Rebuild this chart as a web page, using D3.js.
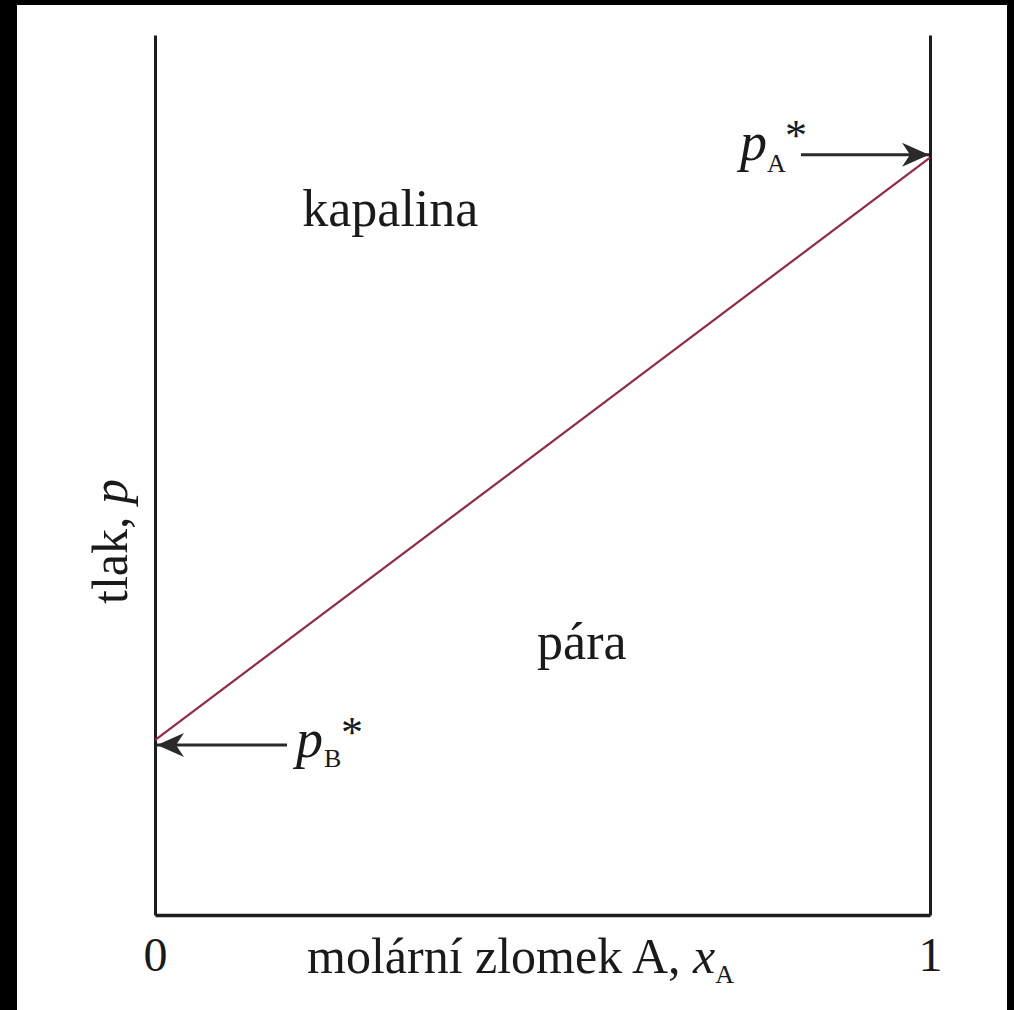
<!DOCTYPE html>
<html>
<head>
<meta charset="utf-8">
<script src="https://cdn.jsdelivr.net/npm/d3@7"></script>
<style>
  html, body { margin: 0; padding: 0; background: #000; }
  svg { display: block; }
  text { font-family: "Liberation Serif", "DejaVu Serif", serif; fill: #1a1a1a; }
</style>
</head>
<body>
<svg id="chart" width="1014" height="1010"></svg>
<script>
// Ideal binary mixture: total vapour pressure vs. mole fraction of A (Raoult's law)
const moleFractionA = [0, 1];
const xTickLabels = ["0", "1"];
const pressureB = 0.231;   // p*_B, relative to p*_A
const pressureA = 1.0;     // p*_A
const pressureLine = [pressureB, pressureA];
const pMax = 1.162;

const regionLabels = [
  { text: "kapalina", x: 0.19, p: 0.91 },
  { text: "pára",     x: 0.493, p: 0.338 }
];

const svg = d3.select("#chart");
const W = 1014, H = 1010;

// page: black surround with white paper
svg.append("rect").attr("width", W).attr("height", H).attr("fill", "#000");
svg.append("rect").attr("x", 17).attr("y", 5).attr("width", 990).attr("height", H - 5).attr("fill", "#fefefe");

const x = d3.scaleLinear().domain([0, 1]).range([155, 930]);
const y = d3.scaleLinear().domain([0, pMax]).range([915, 35]);

const ink = "#1c1c1c";
const lineColor = "#8e2c45";

// bottom axis with 0 / 1 labels
const xAxis = d3.axisBottom(x)
  .tickValues(moleFractionA)
  .tickFormat((d, i) => xTickLabels[i])
  .tickSize(0)
  .tickPadding(22);
const gx = svg.append("g").attr("transform", `translate(0,${y(0)})`).call(xAxis);
gx.select(".domain").attr("stroke", ink).attr("stroke-width", 3.5);
gx.selectAll(".tick text")
  .style("font-family", "'Liberation Serif', serif")
  .attr("font-size", 48).attr("fill", ink)
  .attr("dy", "0.71em");

// left (x_A = 0) and right (x_A = 1) pressure axes, no ticks
const yAxisL = d3.axisLeft(y).tickValues([]).tickSizeOuter(0);
const gyl = svg.append("g").attr("transform", `translate(${x(0)},0)`).call(yAxisL);
gyl.select(".domain").attr("stroke", ink).attr("stroke-width", 3);
const yAxisR = d3.axisRight(y).tickValues([]).tickSizeOuter(0);
const gyr = svg.append("g").attr("transform", `translate(${x(1)},0)`).call(yAxisR);
gyr.select(".domain").attr("stroke", ink).attr("stroke-width", 3);

// Raoult's law line
const line = d3.line().x((d, i) => x(moleFractionA[i])).y(d => y(d));
svg.append("path").datum(pressureLine)
  .attr("d", line)
  .attr("fill", "none")
  .attr("stroke", lineColor)
  .attr("stroke-width", 2.2);

// arrow head marker (swept back)
const defs = svg.append("defs");
defs.append("marker")
  .attr("id", "head")
  .attr("viewBox", "-28 -14 30 28")
  .attr("refX", 0).attr("refY", 0)
  .attr("markerWidth", 30).attr("markerHeight", 28)
  .attr("markerUnits", "userSpaceOnUse")
  .attr("orient", "auto")
  .append("path")
  .attr("d", "M0,0 L-27,-12 L-19,0 L-27,12 Z")
  .attr("fill", "#2a2a2a");

// p*_A arrow pointing at the right axis
svg.append("line")
  .attr("x1", 801).attr("y1", y(pressureA) - 3)
  .attr("x2", x(1) - 1).attr("y2", y(pressureA) - 3)
  .attr("stroke", "#2a2a2a").attr("stroke-width", 3)
  .attr("marker-end", "url(#head)");

// p*_B arrow pointing at the left axis
svg.append("line")
  .attr("x1", 287).attr("y1", y(pressureB) + 5)
  .attr("x2", x(0) + 2).attr("y2", y(pressureB) + 5)
  .attr("stroke", "#2a2a2a").attr("stroke-width", 3)
  .attr("marker-end", "url(#head)");

// p* labels: italic p, subscript and asterisk set as separate pieces
function pStar(px, pBase, sub, subX, subBase, starX, starBase) {
  svg.append("text").attr("x", px).attr("y", pBase)
    .attr("font-size", 54).attr("font-style", "italic").text("p");
  svg.append("text").attr("x", subX).attr("y", subBase)
    .attr("font-size", 26).text(sub);
  svg.append("text").attr("x", starX).attr("y", starBase)
    .attr("font-size", 44).text("*");
}
pStar(740, y(pressureA) + 2, "A", 767, y(pressureA) + 14, 785, y(pressureA) - 8);
pStar(296, y(pressureB) + 17, "B", 324, y(pressureB) + 27, 341, y(pressureB) + 7);

// region labels
svg.selectAll("text.region").data(regionLabels).join("text")
  .attr("class", "region")
  .attr("x", d => x(d.x)).attr("y", d => y(d.p))
  .attr("font-size", 52)
  .text(d => d.text);

// x-axis title
const xt = svg.append("text").attr("x", 307).attr("y", 973).attr("font-size", 50);
xt.append("tspan").text("molární zlomek A, ");
xt.append("tspan").attr("font-style", "italic").text("x");
xt.append("tspan").attr("font-size", 26).attr("dy", 10).text("A");

// y-axis title
const yt = svg.append("text")
  .attr("transform", "translate(127,604) rotate(-90)")
  .attr("font-size", 50);
yt.append("tspan").text("tlak, ");
yt.append("tspan").attr("font-style", "italic").text("p");
</script>
</body>
</html>
